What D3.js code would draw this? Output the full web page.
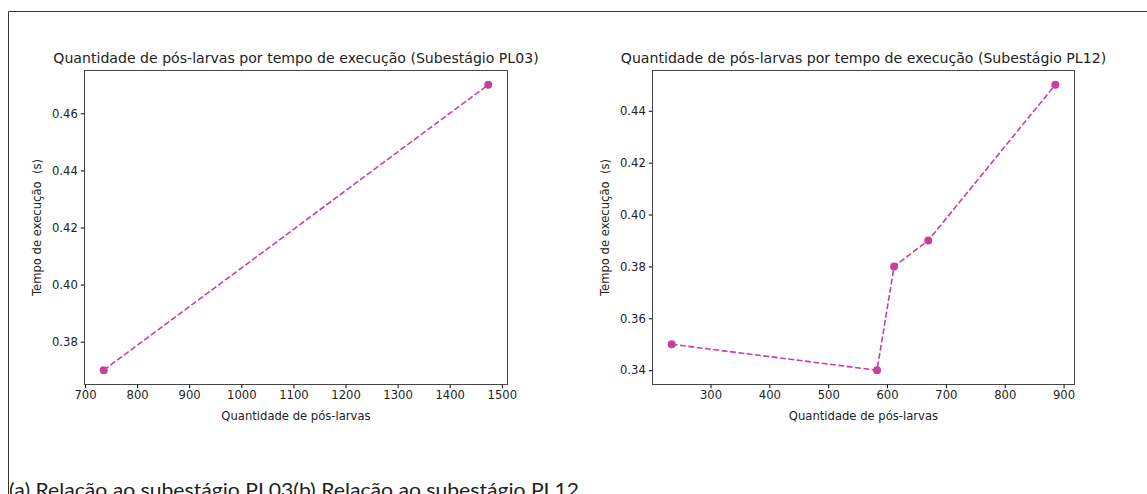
<!DOCTYPE html>
<html lang="pt">
<head>
    <meta charset="utf-8">
    <title>Pós-larvas por tempo de execução</title>
    <script src="https://d3js.org/d3.v7.min.js"></script>
    <style>
        body { margin: 0; background: #fff; }
        svg text { font-family: "DejaVu Sans", sans-serif; fill: #222; }
    </style>
</head>
<body>

<script>
    // subestágio PL03
    const pl03X = [736, 1474];
    const pl03Y = [0.37, 0.47];
    // subestágio PL12
    const pl12X = [234, 583, 612, 670, 886];
    const pl12Y = [0.35, 0.34, 0.38, 0.39, 0.45];

    const pl03XTicks = [700, 800, 900, 1000, 1100, 1200, 1300, 1400, 1500];
    const pl03YTicks = [0.38, 0.40, 0.42, 0.44, 0.46];
    const pl12XTicks = [300, 400, 500, 600, 700, 800, 900];
    const pl12YTicks = [0.34, 0.36, 0.38, 0.40, 0.42, 0.44];

    const titles = [
        "Quantidade de pós-larvas por tempo de execução (Subestágio PL03)",
        "Quantidade de pós-larvas por tempo de execução (Subestágio PL12)"
    ];
    const caption = "(a) Relação ao subestágio PL03(b) Relação ao subestágio PL12";

    const color = "#c8409b";
    const W = 1147, H = 494;
    const tickFont = "11.6px";

    const svg = d3.select("body").append("svg")
            .attr("width", W).attr("height", H);

    // page frame (top and left rule)
    svg.append("line").attr("x1", 8.5).attr("x2", W).attr("y1", 11.5).attr("y2", 11.5)
            .attr("stroke", "#333").attr("stroke-width", 1);
    svg.append("line").attr("x1", 8.5).attr("x2", 8.5).attr("y1", 11.5).attr("y2", H)
            .attr("stroke", "#333").attr("stroke-width", 1);

    // matplotlib style 5% margins
    function padded(v) {
        const [a, b] = d3.extent(v);
        const m = (b - a) * 0.05;
        return [a - m, b + m];
    }

    function panel(xs, ys, xTicks, yTicks, title, box) {
        const x = d3.scaleLinear().domain(padded(xs)).range([box.x0, box.x1]);
        const y = d3.scaleLinear().domain(padded(ys)).range([box.y1, box.y0]);
        const g = svg.append("g");

        g.append("g")
                .attr("transform", `translate(0,${box.y1})`)
                .call(d3.axisBottom(x).tickValues(xTicks).tickSize(3.7).tickPadding(3)
                        .tickFormat(d3.format("d")))
                .call(a => a.select(".domain").remove())
                .call(a => a.selectAll("text").style("font-size", tickFont).attr("fill", "#222"));

        g.append("g")
                .attr("transform", `translate(${box.x0},0)`)
                .call(d3.axisLeft(y).tickValues(yTicks).tickSize(3.7).tickPadding(3)
                        .tickFormat(d3.format(".2f")))
                .call(a => a.select(".domain").remove())
                .call(a => a.selectAll("text").style("font-size", tickFont).attr("fill", "#222"));

        g.append("rect")
                .attr("x", box.x0).attr("y", box.y0)
                .attr("width", box.x1 - box.x0).attr("height", box.y1 - box.y0)
                .attr("fill", "none").attr("stroke", "#333").attr("stroke-width", 0.9);

        const pts = xs.map((d, i) => [d, ys[i]]);

        g.append("path")
                .datum(pts)
                .attr("d", d3.line().x(d => x(d[0])).y(d => y(d[1])))
                .attr("fill", "none")
                .attr("stroke", color)
                .attr("stroke-width", 1.6)
                .attr("stroke-dasharray", "5.9,2.5");

        g.selectAll("circle.pt")
                .data(pts).enter()
                .append("circle")
                .attr("class", "pt")
                .attr("cx", d => x(d[0]))
                .attr("cy", d => y(d[1]))
                .attr("r", 4)
                .attr("fill", color);

        const cx = (box.x0 + box.x1) / 2;
        g.append("text")
                .attr("x", cx).attr("y", box.y0 - 8)
                .attr("text-anchor", "middle")
                .style("font-size", "14.1px")
                .text(title);

        g.append("text")
                .attr("x", cx).attr("y", box.y1 + 35)
                .attr("text-anchor", "middle")
                .style("font-size", tickFont)
                .text("Quantidade de pós-larvas");

        g.append("text")
                .attr("transform", `translate(${box.x0 - 44},${(box.y0 + box.y1) / 2}) rotate(-90)`)
                .attr("text-anchor", "middle")
                .style("font-size", tickFont)
                .style("white-space", "pre")
                .text("Tempo de execução  (s)");
    }

    panel(pl03X, pl03Y, pl03XTicks, pl03YTicks, titles[0], {x0: 84.5, x1: 507.5, y0: 70.5, y1: 384.5});
    panel(pl12X, pl12Y, pl12XTicks, pl12YTicks, titles[1], {x0: 652.5, x1: 1074.5, y0: 70.5, y1: 384.5});

    svg.append("text")
            .attr("x", 9).attr("y", 497)
            .attr("textLength", 570)
            .attr("lengthAdjust", "spacingAndGlyphs")
            .style("font-family", "Lato, 'Open Sans', sans-serif")
            .style("font-size", "20px")
            .attr("fill", "#000")
            .text(caption);
</script>

</body>
</html>
